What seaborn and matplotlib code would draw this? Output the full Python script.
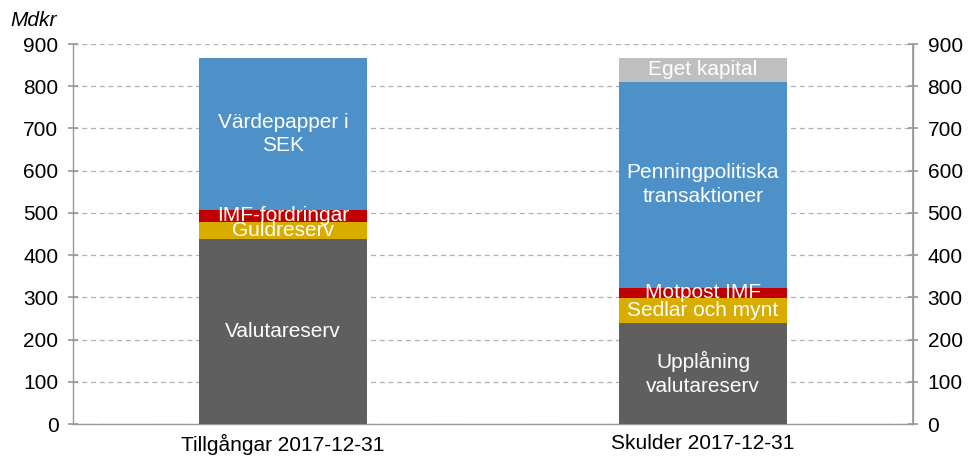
import matplotlib
matplotlib.use("Agg")
import matplotlib.pyplot as plt
import seaborn as sns
import numpy as np

categories = ["Tillgångar 2017-12-31", "Skulder 2017-12-31"]
# Layer values (bottom to top), Mdkr
layer1 = [437, 240]   # Valutareserv / Upplåning valutareserv
layer2 = [42, 58]     # Guldreserv / Sedlar och mynt
layer3 = [28, 25]     # IMF-fordringar / Motpost IMF
layer4 = [360, 488]   # Värdepapper i SEK / Penningpolitiska transaktioner
layer5 = [0, 56]      # - / Eget kapital
labels1 = ["Valutareserv", "Upplåning\nvalutareserv"]
labels2 = ["Guldreserv", "Sedlar och mynt"]
labels3 = ["IMF-fordringar", "Motpost IMF"]
labels4 = ["Värdepapper i\nSEK", "Penningpolitiska\ntransaktioner"]
labels5 = ["", "Eget kapital"]
yticks = [0, 100, 200, 300, 400, 500, 600, 700, 800, 900]

colors = ["#5f5f5f", "#d9ad00", "#c00000", "#4e91c8", "#bfbfbf"]
FS = 15

sns.set_theme(style="white")
plt.rcParams["font.family"] = ["Liberation Sans", "DejaVu Sans"]
plt.rcParams["text.color"] = "black"
plt.rcParams["xtick.color"] = "black"
plt.rcParams["ytick.color"] = "black"

fig = plt.figure(figsize=(9.73, 4.58), dpi=100)
ax = fig.add_axes([73/973, 1 - 424/458, 840/973, 380/458])

layers = [layer1, layer2, layer3, layer4, layer5]
labels = [labels1, labels2, labels3, labels4, labels5]
bottom = np.zeros(len(categories))
for vals, col, labs in zip(layers, colors, labels):
    vals = np.array(vals, dtype=float)
    sns.barplot(x=categories, y=vals, bottom=bottom, color=col, width=0.4,
                saturation=1, ax=ax, zorder=3, linewidth=0)
    for i, (v, lab) in enumerate(zip(vals, labs)):
        if v > 0 and lab:
            ax.text(i, bottom[i] + v / 2, lab, ha="center", va="center",
                    color="white", fontsize=FS, zorder=4, linespacing=1.3)
    bottom = bottom + vals

ax.set_xlim(-0.5, 1.5)
ax.set_ylim(0, 900)
ax.set_yticks(yticks)
ax.set_yticklabels([str(t) for t in yticks], fontsize=FS)
ax.yaxis.grid(True, linestyle=(0, (4, 3)), color="#b0b0b0", linewidth=0.9, zorder=0)
ax.xaxis.grid(False)
ax.set_xticks([0, 1])
ax.set_xticklabels(categories, fontsize=FS)
ax.set_xticks([-0.5, 0.5, 1.5], minor=True)
ax.tick_params(axis="x", which="major", length=0, pad=7, labelcolor="black")
ax.tick_params(axis="x", which="minor", length=4, color="#999999", direction="out")
ax.tick_params(axis="y", length=7, color="#999999", direction="inout", pad=7, labelcolor="black")
ax.spines["top"].set_visible(False)
for s in ["left", "right", "bottom"]:
    ax.spines[s].set_color("#999999")
    ax.spines[s].set_linewidth(1)
ax.set_ylabel("")
ax.set_xlabel("")

ax2 = ax.twinx()
ax2.set_ylim(0, 900)
ax2.set_yticks(yticks)
ax2.set_yticklabels([str(t) for t in yticks], fontsize=FS)
ax2.tick_params(axis="y", length=7, color="#999999", direction="inout", pad=7, labelcolor="black")
ax2.grid(False)
for s in ["top", "left", "bottom"]:
    ax2.spines[s].set_visible(False)
ax2.spines["right"].set_color("#999999")

fig.text(10/973, 1 - 20/458, "Mdkr", fontsize=FS, style="italic", ha="left", va="center",
         color="black")

fig.savefig("out.png", dpi=100)
